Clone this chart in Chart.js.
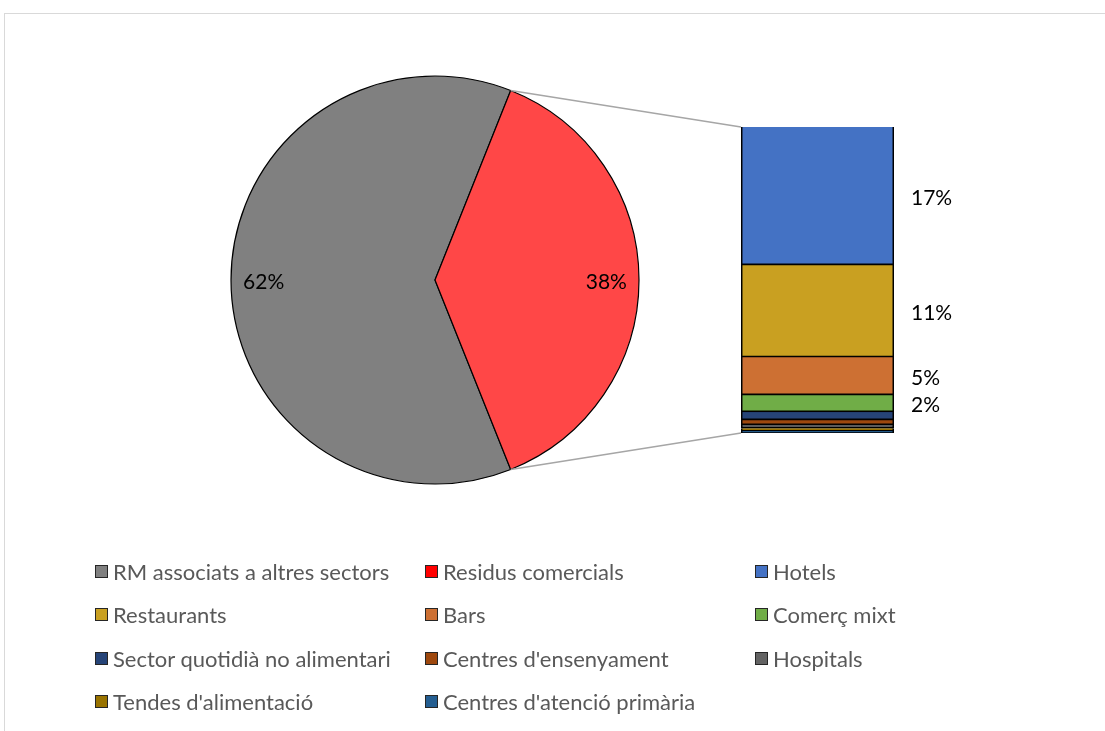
<!DOCTYPE html>
<html>
<head>
<meta charset="utf-8">
<script src="https://cdn.jsdelivr.net/npm/chart.js@4.4.1/dist/chart.umd.min.js"></script>
<style>
    html, body { margin: 0; padding: 0; background: #fff; overflow: hidden; }
    #wrap { position: relative; width: 1105px; height: 731px; overflow: hidden; }
    #frame { position: absolute; left: 4px; top: 13px; width: 1200px; height: 800px; border: 1.5px solid #d9d9d9; }
    canvas { position: absolute; left: 0; top: 0; }
    #legend { position: absolute; left: 95px; top: 550px; font-family: Lato, "Noto Sans", sans-serif; font-size: 22px; color: #595959; }
    .item { position: absolute; display: flex; align-items: center; white-space: nowrap; height: 30px; }
    .box { width: 13px; height: 13px; border: 1px solid #262626; margin-right: 5px; box-sizing: border-box; }
</style>
</head>
<body>
<div id="wrap">
    <div id="frame"></div>
    <canvas id="pieChart" width="1105" height="731"></canvas>
    <canvas id="barChart" width="1105" height="731"></canvas>
    <div id="legend"></div>
</div>
<script>
// ==================== DADES ====================
const pieLabels = ['RM associats a altres sectors', 'Residus comercials'];
const pieColors = ['#808080', '#ff4747'];

const subLabels = ['Hotels', 'Restaurants', 'Bars', 'Comerç mixt', 'Sector quotidià no alimentari',
    "Centres d'ensenyament", 'Hospitals', "Tendes d'alimentació", "Centres d'atenció primària"];
const subValues = [17.1, 11.4, 4.7, 2.1, 1.0, 0.6, 0.4, 0.35, 0.25];
const subColors = ['#4472c4', '#c9a021', '#cd7033', '#70ad47', '#264478', '#9e480e', '#636363', '#997300', '#255e91'];

const rmAltres = 62.1;
const residusTotal = subValues.reduce((a, b) => a + b, 0);
const pieValues = [rmAltres, residusTotal];

const FONT = 'Lato, "Noto Sans", sans-serif';

// ==================== PASTÍS ====================
const pieLabelPlugin = {
    id: 'pieLabels',
    afterDatasetsDraw(chart) {
        const { ctx } = chart;
        const total = pieValues.reduce((a, b) => a + b, 0);
        ctx.save();
        ctx.font = '21px ' + FONT;
        ctx.fillStyle = '#000';
        ctx.textAlign = 'center';
        ctx.textBaseline = 'middle';
        chart.getDatasetMeta(0).data.forEach((arc, i) => {
            const mid = (arc.startAngle + arc.endAngle) / 2;
            const r = arc.outerRadius * 0.84;
            const txt = Math.round(pieValues[i] / total * 100) + '%';
            ctx.fillText(txt, arc.x + Math.cos(mid) * r, arc.y + Math.sin(mid) * r + 2);
        });
        ctx.restore();
    }
};

// la porció vermella queda centrada a la dreta (3 en punt)
const rotacio = 90 - (residusTotal / (rmAltres + residusTotal)) * 180 - (rmAltres / (rmAltres + residusTotal)) * 360;

const pieChart = new Chart(document.getElementById('pieChart'), {
    type: 'pie',
    data: {
        labels: pieLabels,
        datasets: [{
            data: pieValues,
            backgroundColor: pieColors,
            borderColor: '#000',
            borderWidth: 1.2,
            radius: 204
        }]
    },
    options: {
        responsive: false,
        animation: false,
        rotation: rotacio,
        layout: { padding: { left: 231, right: 466, top: 76, bottom: 247 } },
        plugins: { legend: { display: false }, tooltip: { enabled: false } }
    },
    plugins: [pieLabelPlugin]
});

// ==================== BARRA ====================
const barExtras = {
    id: 'barExtras',
    afterDatasetsDraw(chart) {
        const { ctx } = chart;
        const yScale = chart.scales.y;
        const first = chart.getDatasetMeta(0).data[0];
        const left = first.x - first.width / 2;
        const right = first.x + first.width / 2;
        const top = yScale.getPixelForValue(0);
        const bottom = yScale.getPixelForValue(residusTotal);

        // línies de connexió amb el pastís
        const arc = pieChart.getDatasetMeta(0).data[1];
        const p1 = { x: arc.x + Math.cos(arc.startAngle) * arc.outerRadius, y: arc.y + Math.sin(arc.startAngle) * arc.outerRadius };
        const p2 = { x: arc.x + Math.cos(arc.endAngle) * arc.outerRadius, y: arc.y + Math.sin(arc.endAngle) * arc.outerRadius };
        ctx.save();
        ctx.strokeStyle = '#a6a6a6';
        ctx.lineWidth = 1.5;
        ctx.beginPath();
        ctx.moveTo(p1.x, p1.y); ctx.lineTo(left, top);
        ctx.moveTo(p2.x, p2.y); ctx.lineTo(left, bottom);
        ctx.stroke();

        // etiquetes de percentatge
        ctx.font = '21px ' + FONT;
        ctx.fillStyle = '#000';
        ctx.textAlign = 'left';
        ctx.textBaseline = 'middle';
        let acc = 0;
        subValues.forEach(v => {
            const yMid = yScale.getPixelForValue(acc + v / 2);
            acc += v;
            if (v >= 1.5) ctx.fillText(Math.round(v) + '%', right + 17, yMid + 2);
        });
        ctx.restore();
    }
};

new Chart(document.getElementById('barChart'), {
    type: 'bar',
    data: {
        labels: [''],
        datasets: subLabels.map((lab, i) => ({
            label: lab,
            data: [subValues[i]],
            backgroundColor: subColors[i],
            borderColor: '#000',
            borderWidth: 1.8,
            barPercentage: 1,
            categoryPercentage: 1
        }))
    },
    options: {
        responsive: false,
        animation: false,
        layout: { padding: { left: 741, right: 211, top: 127, bottom: 298 } },
        scales: {
            x: { stacked: true, display: false },
            y: { stacked: true, display: false, reverse: true, min: 0, max: residusTotal }
        },
        plugins: { legend: { display: false }, tooltip: { enabled: false } }
    },
    plugins: [barExtras]
});

// ==================== LLEGENDA ====================
const legendItems = [
    { label: pieLabels[0], color: '#808080' },
    { label: pieLabels[1], color: '#ff0000' },
    ...subLabels.map((l, i) => ({ label: l, color: subColors[i] }))
];
const legendDiv = document.getElementById('legend');
legendItems.forEach((it, i) => {
    const col = i % 3, row = Math.floor(i / 3);
    const el = document.createElement('div');
    el.className = 'item';
    el.style.left = (col * 330) + 'px';
    el.style.top = (row * 43.5 + 6) + 'px';
    el.innerHTML = `<span class="box" style="background:${it.color}"></span><span>${it.label}</span>`;
    legendDiv.appendChild(el);
});
</script>
</body>
</html>
